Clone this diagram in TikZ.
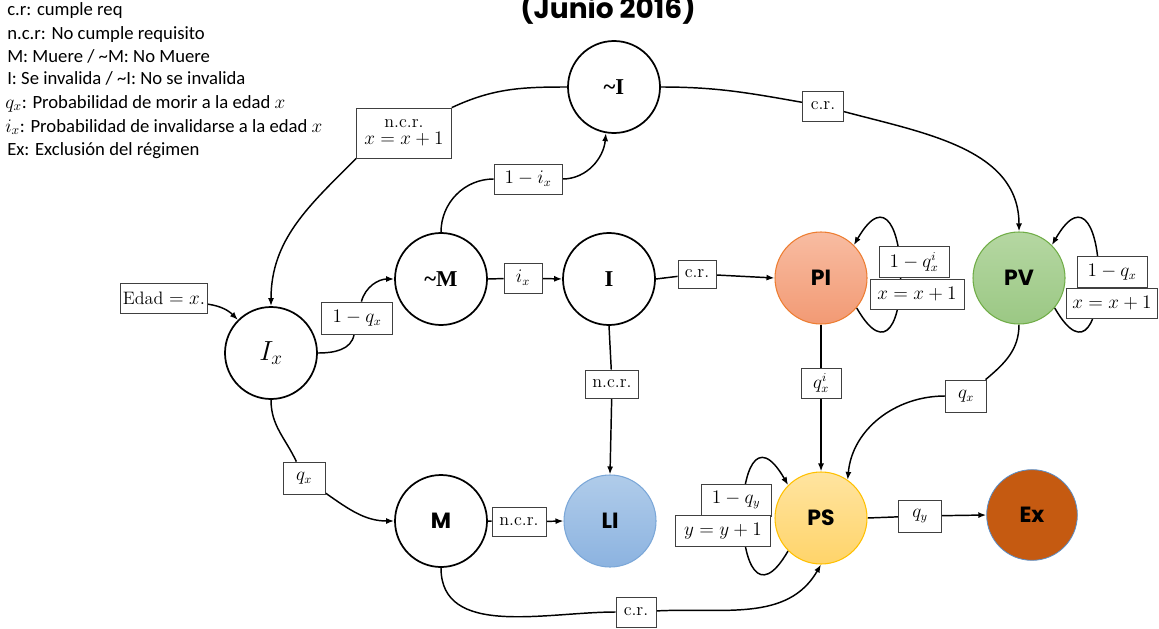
\documentclass[tikz,border=0pt]{standalone}
\usepackage{fontspec}
\newfontfamily\legfont{Carlito}
\newfontfamily\gothic{Poppins}
\newfontfamily\serb{Liberation Serif}
\usetikzlibrary{arrows.meta}
\pgfdeclarelayer{background}
\pgfsetlayers{background,main}
\definecolor{piTop}{HTML}{F8BCA2}
\definecolor{piBot}{HTML}{F29A74}
\definecolor{piLine}{HTML}{ED7D31}
\definecolor{pvTop}{HTML}{B5D7A2}
\definecolor{pvBot}{HTML}{9BC884}
\definecolor{pvLine}{HTML}{70AD47}
\definecolor{psTop}{HTML}{FFE4A0}
\definecolor{psBot}{HTML}{FFD46A}
\definecolor{psLine}{HTML}{FFC000}
\definecolor{liTop}{HTML}{B0CCEA}
\definecolor{liBot}{HTML}{8CB3E0}
\definecolor{liLine}{HTML}{7BA7D8}
\definecolor{exFill}{HTML}{C55A11}
\definecolor{exLine}{HTML}{5B8FC8}
\newcommand{\gothb}{\gothic\bfseries\fontsize{16.5}{18}\selectfont}
\newcommand{\serbb}{\serb\bfseries\fontsize{17}{19}\selectfont}
\tikzset{
  st/.style={circle, draw, line width=1.3pt, minimum size=69pt, inner sep=0pt, fill=white},
  lb/.style={draw=black!75, fill=white, line width=0.6pt, inner sep=1pt,
             font=\fontsize{13.5}{15}\selectfont, minimum height=22.5pt},
  ed/.style={line width=1.1pt},
  arr/.style={ed, -{Latex[length=6pt,width=4.5pt]}},
  leg/.style={anchor=base west, inner sep=0pt, font=\legfont\fontsize{14}{16}\selectfont}
}
\begin{document}
\begin{tikzpicture}[x=0.75pt,y=0.75pt]
\useasboundingbox (0,0) rectangle (1159,-628);

% title
\node[anchor=base, inner sep=0pt, font=\gothic\bfseries\fontsize{21}{24}\selectfont] (title) at (608,-18) {(Junio 2016)};

% legend
\node[leg] (lg1) at (7,-16) {c.r: cumple req};
\node[leg] (lg2) at (7,-39) {n.c.r: No cumple requisito};
\node[leg] (lg3) at (7,-62) {M: Muere / \textasciitilde M: No Muere};
\node[leg] (lg4) at (7,-84) {I: Se invalida / \textasciitilde I: No se invalida};
\node[leg] (lg5) at (5,-108) {$q_x$: Probabilidad de morir a la edad $x$};
\node[leg] (lg6) at (5,-132) {$i_x$: Probabilidad de invalidarse a la edad $x$};
\node[leg] (lg7) at (7,-155) {Ex: Exclusión del régimen};

% states
\node[st] (nI) at (614,-87) {\serbb\textasciitilde I};
\node[st] (nM) at (441,-279) {\serbb\textasciitilde M};
\node[st] (In) at (609,-279) {\serbb I};
\node[st] (Ix) at (271,-353) {\fontsize{20}{22}\selectfont$I_x$};
\node[st] (Md) at (441,-521) {\gothb M};
\node[st, draw=liLine, line width=0.8pt, top color=liTop, bottom color=liBot] (LI) at (610,-521) {\gothb LI};
\node[st, draw=piLine, line width=0.8pt, top color=piTop, bottom color=piBot] (PI) at (821,-278) {\gothb PI};
\node[st, draw=pvLine, line width=0.8pt, top color=pvTop, bottom color=pvBot] (PV) at (1019,-278) {\gothb PV};
\node[st, draw=psLine, line width=0.8pt, top color=psTop, bottom color=psBot] (PS) at (821,-518) {\gothb PS};
\node[st, draw=exLine, line width=0.6pt, fill=exFill, minimum size=68pt] (Ex) at (1032,-515) {\gothb Ex};

% labels
\node[lb, minimum width=65pt] (edad) at (164,-298) {Edad $= x.$};
\node[lb, minimum width=53pt, minimum height=24pt] (l3) at (357,-318) {$1-q_x$};
\node[lb, minimum width=31.5pt, minimum height=24pt] (l5) at (304,-478) {$q_x$};
\node[lb, minimum width=71pt, minimum height=37.5pt, align=center] (l1) at (404,-133) {n.c.r.\\[-2pt]$x=x+1$};
\node[lb, minimum width=51pt] (l2) at (528,-179) {$1-i_x$};
\node[lb, minimum width=28.5pt] (l6) at (523,-278) {$i_x$};
\node[lb, minimum width=28.5pt, minimum height=21pt] (l7) at (697,-274) {c.r.};
\node[lb, minimum width=40pt, minimum height=21pt] (l8) at (612,-384) {n.c.r.};
\node[lb, minimum width=31pt] (l11) at (823,-106) {c.r.};
\node[lb, minimum width=30pt] (l12) at (821,-383) {$q_x^i$};
\node[lb, minimum width=31pt, minimum height=24pt] (l13) at (966,-396) {$q_x$};
\node[lb, minimum width=32pt, minimum height=24pt] (l14) at (920,-516) {$q_y$};
\node[lb, minimum width=30pt] (l10) at (636,-612) {c.r.};
\node[lb, minimum width=40.5pt, minimum height=22pt] (l9) at (519,-522) {n.c.r.};

% self-loop labels
\node[lb, minimum width=52.5pt, minimum height=23pt] (lp1) at (914,-262) {$1-q_x^i$};
\node[lb, minimum width=70.5pt] (lp2) at (917,-294) {$x=x+1$};
\node[lb, minimum width=52.5pt, minimum height=23pt] (lv1) at (1112,-272) {$1-q_x$};
\node[lb, minimum width=68pt] (lv2) at (1112,-303) {$x=x+1$};
\node[lb, minimum width=52.5pt, minimum height=24pt] (ls1) at (736,-500) {$1-q_y$};
\node[lb, minimum width=71pt, minimum height=23pt] (ls2) at (723,-531) {$y=y+1$};

\begin{pgfonlayer}{background}
% ~I -> Ix
\draw[ed] (nI.west) to[out=180,in=25] (l1.north east);
\draw[arr] (l1.south west) to[out=225,in=90] (Ix.north);
% ~M -> ~I
\draw[ed] (nM.north) to[out=90,in=180] (l2);
\draw[arr] (l2) to[out=0,in=-95] (nI.-100);
% Ix -> ~M
\draw[ed] (Ix.east) to[out=0,in=-100] (l3);
\draw[arr] (l3) to[out=75,in=180] (nM.west);
% Edad -> Ix
\draw[arr] (edad) to[out=-8,in=135] (Ix.135);
% Ix -> M
\draw[ed] (Ix.south) to[out=-90,in=115] (l5);
\draw[arr] (l5) to[out=-35,in=180] (Md.west);
% ~M -> I
\draw[ed] (nM.east) -- (l6);
\draw[arr] (l6) -- (In.west);
% I -> PI
\draw[ed] (In.east) -- (l7);
\draw[arr] (l7) -- (PI.west);
% I -> LI
\draw[ed] (In.south) -- (l8);
\draw[arr] (l8) -- (LI.north);
% M -> LI
\draw[ed] (Md.east) -- (l9);
\draw[arr] (l9) -- (LI.west);
% M -> PS
\draw[ed] (Md.south) to[out=-90,in=180] (l10);
\draw[arr] (l10) to[out=3,in=-120] (PS.-90);
% ~I -> PV
\draw[ed] (nI.east) to[out=0,in=170] (l11);
\draw[arr] (l11) to[out=-15,in=90] (PV.north);
% PI -> PS
\draw[ed] (PI.south) -- (l12);
\draw[arr] (l12) -- (PS.north);
% PV -> PS
\draw[ed] (PV.south) to[out=-90,in=40] (l13);
\draw[arr] (l13) to[out=180,in=85] (PS.55);
% PS -> Ex
\draw[ed] (PS.east) -- (l14);
\draw[arr] (l14) -- (Ex.west);
% self loops
\draw[arr] (PI.-40) .. controls +(-60:120) and +(60:120) .. (PI.45);
\draw[arr] (PV.-40) .. controls +(-60:120) and +(60:120) .. (PV.45);
\draw[arr] (PS.-135) .. controls +(-120:120) and +(120:120) .. (PS.135);
\end{pgfonlayer}
\end{tikzpicture}
\end{document}
